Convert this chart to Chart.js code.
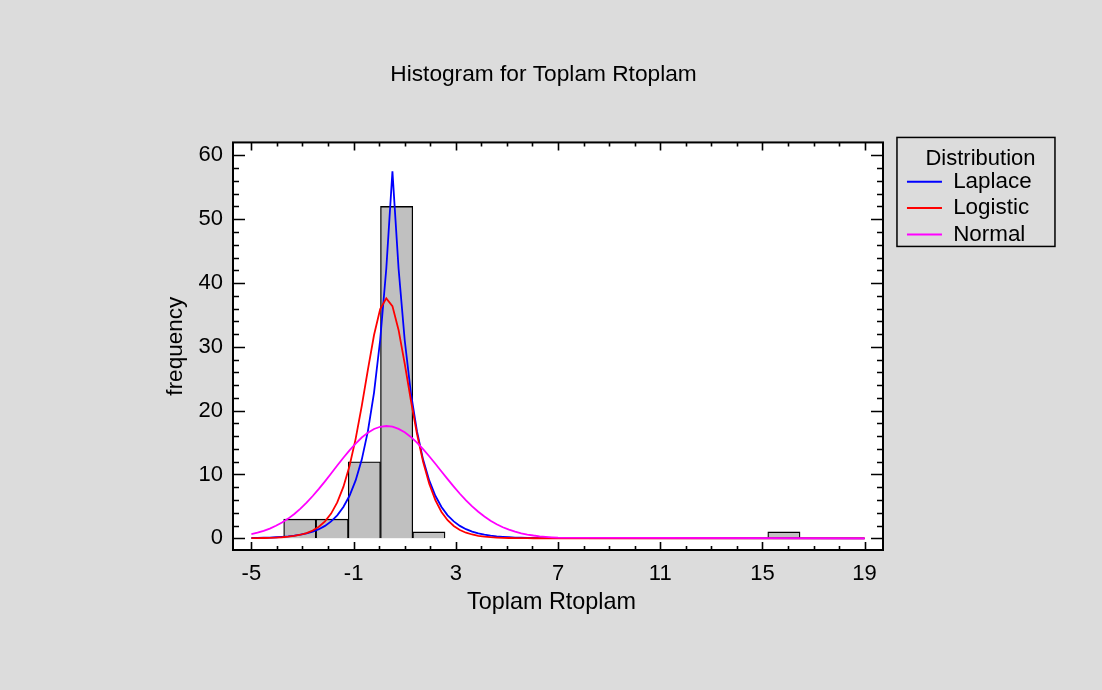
<!DOCTYPE html>
<html>
<head>
<meta charset="utf-8">
<title>Histogram for Toplam Rtoplam</title>
<script src="https://cdn.jsdelivr.net/npm/chart.js@4.4.1/dist/chart.umd.min.js"></script>
<style>
html, body { margin: 0; padding: 0; background: #dcdcdc; }
</style>
</head>
<body>
<canvas id="histChart" width="1102" height="690"></canvas>
<script>
// histogram bins (19 bins of width 24/19 from -5 to 19)
const binCenters = [-4.368, -3.105, -1.842, -0.579, 0.684, 1.947, 3.211, 4.474, 5.737, 7.000,
  8.263, 9.526, 10.789, 12.053, 13.316, 14.579, 15.842, 17.105, 18.368];
const binCounts = [0, 3, 3, 12, 52, 1, 0, 0, 0, 0, 0, 0, 0, 0, 0, 0, 1, 0, 0];

// fitted curves
const curveX = [-5.00, -4.76, -4.52, -4.28, -4.04, -3.80, -3.56, -3.32, -3.08, -2.84, -2.60, -2.36, -2.12,
  -1.88, -1.64, -1.40, -1.16, -0.92, -0.68, -0.44, -0.20, 0.04, 0.28, 0.52, 0.76, 1.00, 1.24, 1.48,
  1.72, 1.96, 2.20, 2.44, 2.68, 2.92, 3.16, 3.40, 3.64, 3.88, 4.12, 4.36, 4.60, 4.84, 5.08, 5.32,
  5.56, 5.80, 6.04, 6.28, 6.52, 6.76, 7.00, 19.00];
const laplace = [0.05, 0.07, 0.09, 0.12, 0.17, 0.23, 0.31, 0.42, 0.57, 0.77, 1.05, 1.43, 1.95,
  2.65, 3.60, 4.90, 6.67, 9.07, 12.34, 16.79, 22.84, 31.07, 42.27, 57.50, 42.27, 31.07, 22.84, 16.79,
  12.34, 9.07, 6.67, 4.90, 3.60, 2.65, 1.95, 1.43, 1.05, 0.77, 0.57, 0.42, 0.31, 0.23, 0.17, 0.12,
  0.09, 0.07, 0.05, 0.04, 0.03, 0.02, 0.02, 0];
const logistic = [0.02, 0.04, 0.05, 0.08, 0.12, 0.17, 0.25, 0.38, 0.56, 0.83, 1.23, 1.81, 2.65,
  3.88, 5.63, 8.06, 11.34, 15.59, 20.74, 26.42, 31.85, 35.92, 37.59, 36.39, 32.65, 27.37, 21.67, 16.39,
  11.99, 8.54, 5.98, 4.13, 2.84, 1.93, 1.31, 0.88, 0.60, 0.40, 0.27, 0.18, 0.12, 0.08, 0.05, 0.04,
  0.02, 0.02, 0.01, 0.01, 0.01, 0, 0, 0];
const normal = [0.66, 0.88, 1.17, 1.52, 1.96, 2.48, 3.09, 3.82, 4.65, 5.59, 6.63, 7.74, 8.93,
  10.16, 11.40, 12.62, 13.78, 14.85, 15.79, 16.56, 17.13, 17.48, 17.60, 17.49, 17.15, 16.61, 15.89, 15.00,
  13.97, 12.86, 11.68, 10.47, 9.27, 8.10, 6.98, 5.94, 5.00, 4.16, 3.41, 2.76, 2.21, 1.74, 1.35, 1.04,
  0.79, 0.59, 0.44, 0.32, 0.23, 0.16, 0.11, 0];

const xTicks = [-5, -1, 3, 7, 11, 15, 19];
const yTicks = [0, 10, 20, 30, 40, 50, 60];

Chart.defaults.font.family = "'Liberation Sans', Arial, sans-serif";
Chart.defaults.font.size = 22;
Chart.defaults.color = '#000';

const PAD_LEFT = 45.4;
const PAD_RIGHT = 60.4;
const PLOT_RIGHT = 883;

function curve(vals) {
  return curveX.map((x, i) => ({ x: x, y: vals[i] }));
}

// frame, inward tick marks, legend box, backgrounds
const framePlugin = {
  id: 'framePlugin',
  beforeDraw(chart) {
    const c = chart.ctx, a = chart.chartArea;
    c.save();
    c.fillStyle = '#dcdcdc';
    c.fillRect(0, 0, chart.width, chart.height);
    c.fillStyle = '#ffffff';
    c.fillRect(a.left, a.top, a.right - a.left, a.bottom - a.top);
    c.restore();
  },
  afterDraw(chart) {
    const c = chart.ctx, a = chart.chartArea;
    const xs = chart.scales.x, ys = chart.scales.y;
    c.save();
    c.strokeStyle = '#000';
    c.lineWidth = 2;
    c.strokeRect(a.left, a.top, a.right - a.left, a.bottom - a.top);

    c.lineWidth = 1.6;
    c.beginPath();
    for (let v = -5; v <= 19; v++) {
      const px = Math.round(xs.getPixelForValue(v)) + 0.5;
      const len = xTicks.includes(v) ? 8 : 4;
      c.moveTo(px, a.bottom); c.lineTo(px, a.bottom - len);
      c.moveTo(px, a.top); c.lineTo(px, a.top + len);
    }
    for (let v = 0; v <= 60; v += 2) {
      const py = Math.round(ys.getPixelForValue(v)) + 0.5;
      const len = yTicks.includes(v) ? 12 : 6;
      c.moveTo(a.left, py); c.lineTo(a.left + len, py);
      c.moveTo(a.right, py); c.lineTo(a.right - len, py);
    }
    c.stroke();

    const lg = chart.legend;
    c.lineWidth = 1.5;
    c.strokeRect(lg.left - 6, lg.top - 5, 158, 109);
    c.restore();
  }
};

new Chart(document.getElementById('histChart'), {
  type: 'bar',
  data: {
    datasets: [
      {
        type: 'bar',
        label: 'histogram',
        data: binCenters.map((x, i) => ({ x: x, y: binCounts[i] })),
        backgroundColor: '#c0c0c0',
        borderColor: '#000',
        borderWidth: 1.3,
        barPercentage: 1,
        categoryPercentage: 1,
        order: 3
      },
      {
        type: 'line',
        label: 'Laplace',
        data: curve(laplace),
        borderColor: '#0000ff',
        backgroundColor: '#0000ff',
        borderWidth: 1.8,
        pointRadius: 0,
        fill: false,
        tension: 0,
        order: 2
      },
      {
        type: 'line',
        label: 'Logistic',
        data: curve(logistic),
        borderColor: '#ff0000',
        backgroundColor: '#ff0000',
        borderWidth: 1.8,
        pointRadius: 0,
        fill: false,
        tension: 0,
        order: 1
      },
      {
        type: 'line',
        label: 'Normal',
        data: curve(normal),
        borderColor: '#ff00ff',
        backgroundColor: '#ff00ff',
        borderWidth: 1.8,
        pointRadius: 0,
        fill: false,
        tension: 0,
        order: 0
      }
    ]
  },
  options: {
    responsive: false,
    animation: false,
    events: [],
    layout: { padding: { left: PAD_LEFT, right: PAD_RIGHT, top: 0, bottom: 0 } },
    plugins: {
      title: {
        display: true,
        text: 'Histogram for Toplam Rtoplam',
        color: '#000',
        font: { size: 22.7, weight: 'normal' },
        padding: { top: 61, bottom: 54.2 }
      },
      legend: {
        display: true,
        position: 'right',
        align: 'start',
        fullSize: false,
        title: {
          display: true,
          text: 'Distribution ',
          position: 'end',
          color: '#000',
          font: { size: 22, lineHeight: 1 },
          padding: { top: 5, bottom: -3 }
        },
        labels: {
          boxWidth: 35,
          boxHeight: 2,
          padding: 4,
          color: '#000',
          font: { size: 22.4 },
          filter: (item) => item.datasetIndex > 0,
          sort: (a, b) => a.datasetIndex - b.datasetIndex,
          generateLabels(chart) {
            const items = Chart.defaults.plugins.legend.labels.generateLabels(chart);
            items.forEach(it => { it.fillStyle = it.strokeStyle; it.lineWidth = 0; });
            return items;
          }
        }
      },
      tooltip: { enabled: false }
    },
    scales: {
      x: {
        type: 'linear',
        position: 'bottom',
        min: -5.72,
        max: 19.72,
        offset: false,
        grid: { display: false, drawTicks: false, offset: false },
        border: { display: false },
        ticks: { padding: 11, font: { size: 22 }, color: '#000' },
        afterBuildTicks(s) { s.ticks = xTicks.map(v => ({ value: v })); },
        afterFit(s) { s.height = 140; },
        title: {
          display: true,
          text: 'Toplam Rtoplam  ',
          color: '#000',
          font: { size: 23.4 },
          padding: { top: 0, bottom: 73 }
        }
      },
      y: {
        type: 'linear',
        position: 'left',
        min: -1.83,
        max: 62.03,
        grid: { display: false, drawTicks: false },
        border: { display: false },
        ticks: { padding: 10, font: { size: 22 }, color: '#000' },
        afterBuildTicks(s) { s.ticks = yTicks.map(v => ({ value: v })); },
        afterFit(s) { s.width = 233 - PAD_LEFT; },
        title: {
          display: true,
          text: 'frequency',
          color: '#000',
          font: { size: 22.5 },
          padding: { top: 117, bottom: 0 }
        }
      },
      y2: {
        type: 'linear',
        position: 'right',
        display: true,
        grid: { display: false, drawTicks: false },
        border: { display: false },
        ticks: { display: false },
        afterFit(s) {
          const lg = s.chart.legend;
          const lw = (lg && Number.isFinite(lg.width)) ? lg.width : 140;
          const w = s.chart.width - PAD_RIGHT - lw - PLOT_RIGHT;
          s.width = Number.isFinite(w) ? Math.max(0, w) : 0;
        }
      }
    }
  },
  plugins: [framePlugin]
});
</script>
</body>
</html>
